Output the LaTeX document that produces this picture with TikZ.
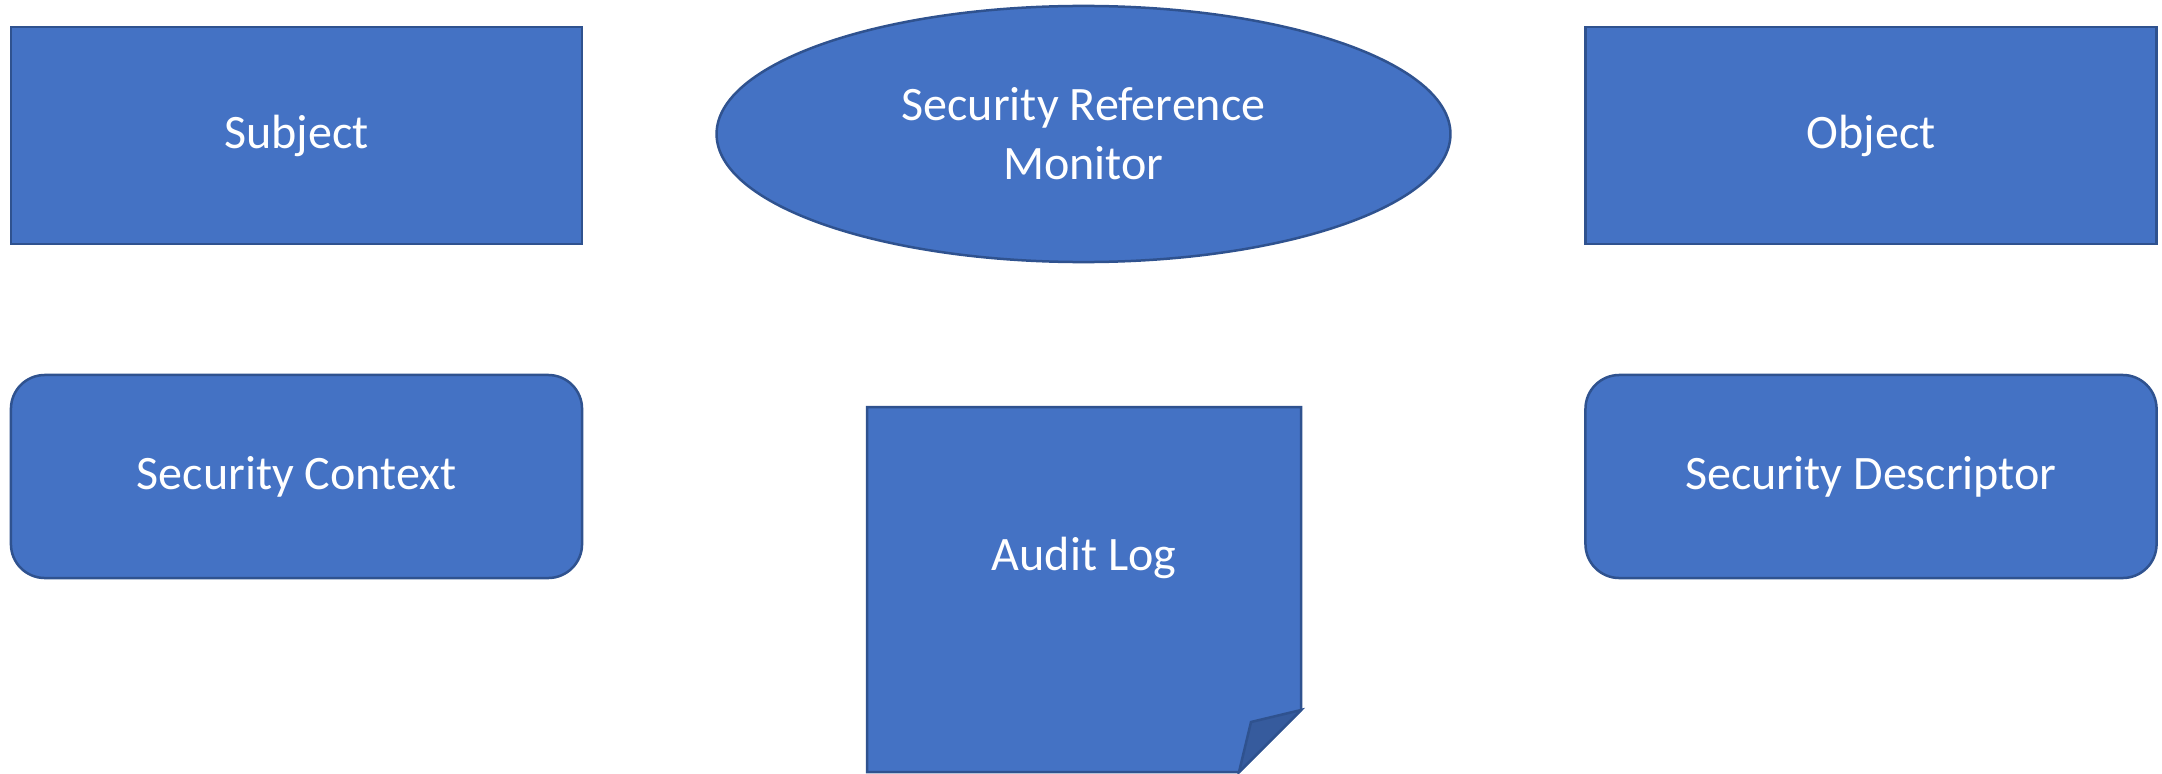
\documentclass[tikz,border=0pt]{standalone}
\usepackage{fontspec}
\setmainfont{Carlito}
\usetikzlibrary{shapes.geometric}

\definecolor{boxblue}{RGB}{68,114,196}
\definecolor{boxedge}{RGB}{47,82,143}
\definecolor{foldblue}{RGB}{54,91,157}

\tikzset{every picture/.style={line width=0.9pt}}
\tikzset{
  shapebox/.style={draw=boxedge, fill=boxblue, text=white, inner sep=0pt,
    font=\fontsize{17.3}{21.2}\selectfont, align=center},
  plainbox/.style={shapebox, rectangle, minimum width=205.6pt, minimum height=78.1pt},
  roundbox/.style={shapebox, rectangle, rounded corners=12.2pt, minimum width=205.6pt, minimum height=73.1pt},
  monitorbox/.style={shapebox, ellipse, minimum width=264.2pt, minimum height=92.2pt},
  whitetext/.style={text=white, inner sep=0pt, font=\fontsize{17.3}{21.2}\selectfont}
}

\begin{document}
\begin{tikzpicture}[x=0.36pt,y=0.36pt,yscale=-1,xscale=1]
\useasboundingbox (0,0) rectangle (2162,773);

%Shape: Rectangle
\node [plainbox] (subject) at (296.5,135.5) {Subject};
%Shape: Ellipse
\node [monitorbox] (monitor) at (1083.5,134) {Security Reference\\Monitor};
%Shape: Rectangle
\node [plainbox] (object) at (1871,135.5) {Object};

%Shape: Rounded Rect
\node [roundbox] (context) at (296.5,476.5) {Security Context};
%Shape: Rounded Rect
\node [roundbox] (descriptor) at (1871,476.5) {Security Descriptor};

%Shape: Folded Corner
\draw [draw=boxedge, fill=boxblue] (867,407) -- (1301,407) -- (1301,710) -- (1239,772) -- (867,772) -- cycle ;
\draw [draw=boxedge, fill=foldblue] (1239,772) -- (1251,722) -- (1301,710) -- cycle ;
% Text Node
\node [whitetext] (audit) at (1084,558) {Audit Log};

\end{tikzpicture}
\end{document}
